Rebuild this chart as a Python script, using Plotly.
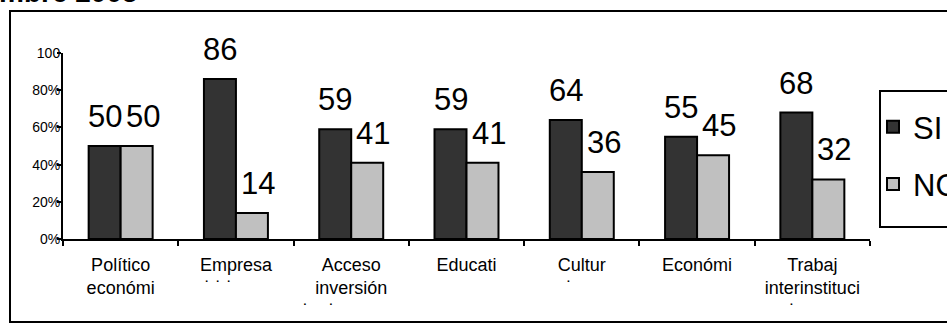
import plotly.graph_objects as go

categories = ["Político<br>económi",
              "Empresa<br>˙ ˙ ˙\u00a0\u00a0\u00a0\u00a0\u00a0\u00a0\u00a0",
              "Acceso<br>inversión<br>˙\u00a0\u00a0\u00a0\u00a0˙\u00a0\u00a0\u00a0\u00a0\u00a0\u00a0\u00a0\u00a0\u00a0\u00a0\u00a0\u00a0\u00a0",
              "Educati",
              "Cultur<br>˙\u00a0\u00a0\u00a0\u00a0\u00a0",
              "Económi",
              "Trabaj<br>interinstituci<br>˙\u00a0\u00a0\u00a0\u00a0\u00a0\u00a0\u00a0\u00a0"]
si_values = [50, 86, 59, 59, 64, 55, 68]
no_values = [50, 14, 41, 41, 36, 45, 32]
ytick_vals = [0, 20, 40, 60, 80, 100]
ytick_text = ["0%", "20%", "40%", "60%", "80%", "100"]

FONT = "Liberation Sans, Arial, sans-serif"
W, H = 947, 329
L, R, T, B = 63, 77, 53, 90
pw, ph = W - L - R, H - T - B

def px_x(x):
    return (x - L) / pw

def px_y(y):
    return (H - B - y) / ph

fig = go.Figure()
fig.add_trace(go.Bar(x=categories, y=si_values, name="SI",
                     marker=dict(color="#333333", line=dict(color="black", width=2)),
                     legendgroup="a"))
fig.add_trace(go.Bar(x=categories, y=no_values, name="NO",
                     marker=dict(color="#c0c0c0", line=dict(color="black", width=2)),
                     legendgroup="b"))

annotations = []
for c, v in zip(categories, si_values):
    annotations.append(dict(x=c, y=v, xref="x", yref="y", text=str(v), showarrow=False,
                            xanchor="center", yanchor="bottom", xshift=-16, yshift=10,
                            font=dict(family=FONT, size=31, color="black")))
for c, v in zip(categories, no_values):
    annotations.append(dict(x=c, y=v, xref="x", yref="y", text=str(v), showarrow=False,
                            xanchor="center", yanchor="bottom", xshift=22, yshift=10,
                            font=dict(family=FONT, size=31, color="black")))
annotations.append(dict(x=px_x(140), y=px_y(10.5), xref="paper", yref="paper",
                        text="<b>mbre 2005</b>", showarrow=False,
                        xanchor="right", yanchor="bottom",
                        font=dict(family=FONT, size=28, color="black")))

shapes = [
    dict(type="rect", xref="paper", yref="paper",
         x0=px_x(10), x1=px_x(960), y0=px_y(322), y1=px_y(11),
         line=dict(color="black", width=2), fillcolor="rgba(0,0,0,0)", layer="above"),
    dict(type="rect", xref="paper", yref="paper",
         x0=px_x(880), x1=px_x(960), y0=px_y(227), y1=px_y(91),
         line=dict(color="black", width=2), fillcolor="white", layer="below"),
]

fig.update_layout(
    width=W, height=H,
    margin=dict(l=L, r=R, t=T, b=B, autoexpand=False),
    paper_bgcolor="white", plot_bgcolor="white",
    barmode="group", bargap=0.445, bargroupgap=0,
    font=dict(family=FONT, color="black"),
    showlegend=True,
    legend=dict(x=px_x(873), y=px_y(100), xanchor="left", yanchor="top",
                bgcolor="rgba(0,0,0,0)", borderwidth=0,
                font=dict(family=FONT, size=31, color="black"),
                traceorder="grouped", tracegroupgap=14,
                itemwidth=30),
    annotations=annotations,
    shapes=shapes,
    xaxis=dict(type="category", showline=True, linecolor="black", linewidth=2,
               ticks="outside", tickson="boundaries", ticklen=5, tickwidth=2,
               tickcolor="black", showgrid=False, ticklabelstandoff=8,
               tickfont=dict(family=FONT, size=18, color="black")),
    yaxis=dict(range=[0, 100], showline=True, linecolor="black", linewidth=2,
               ticks="outside", ticklen=4, tickwidth=2, tickcolor="black",
               tickvals=ytick_vals, ticktext=ytick_text, showgrid=False,
               zeroline=False, ticklabelstandoff=-6,
               tickfont=dict(family=FONT, size=14, color="black")),
)

fig.write_html("out.html")
